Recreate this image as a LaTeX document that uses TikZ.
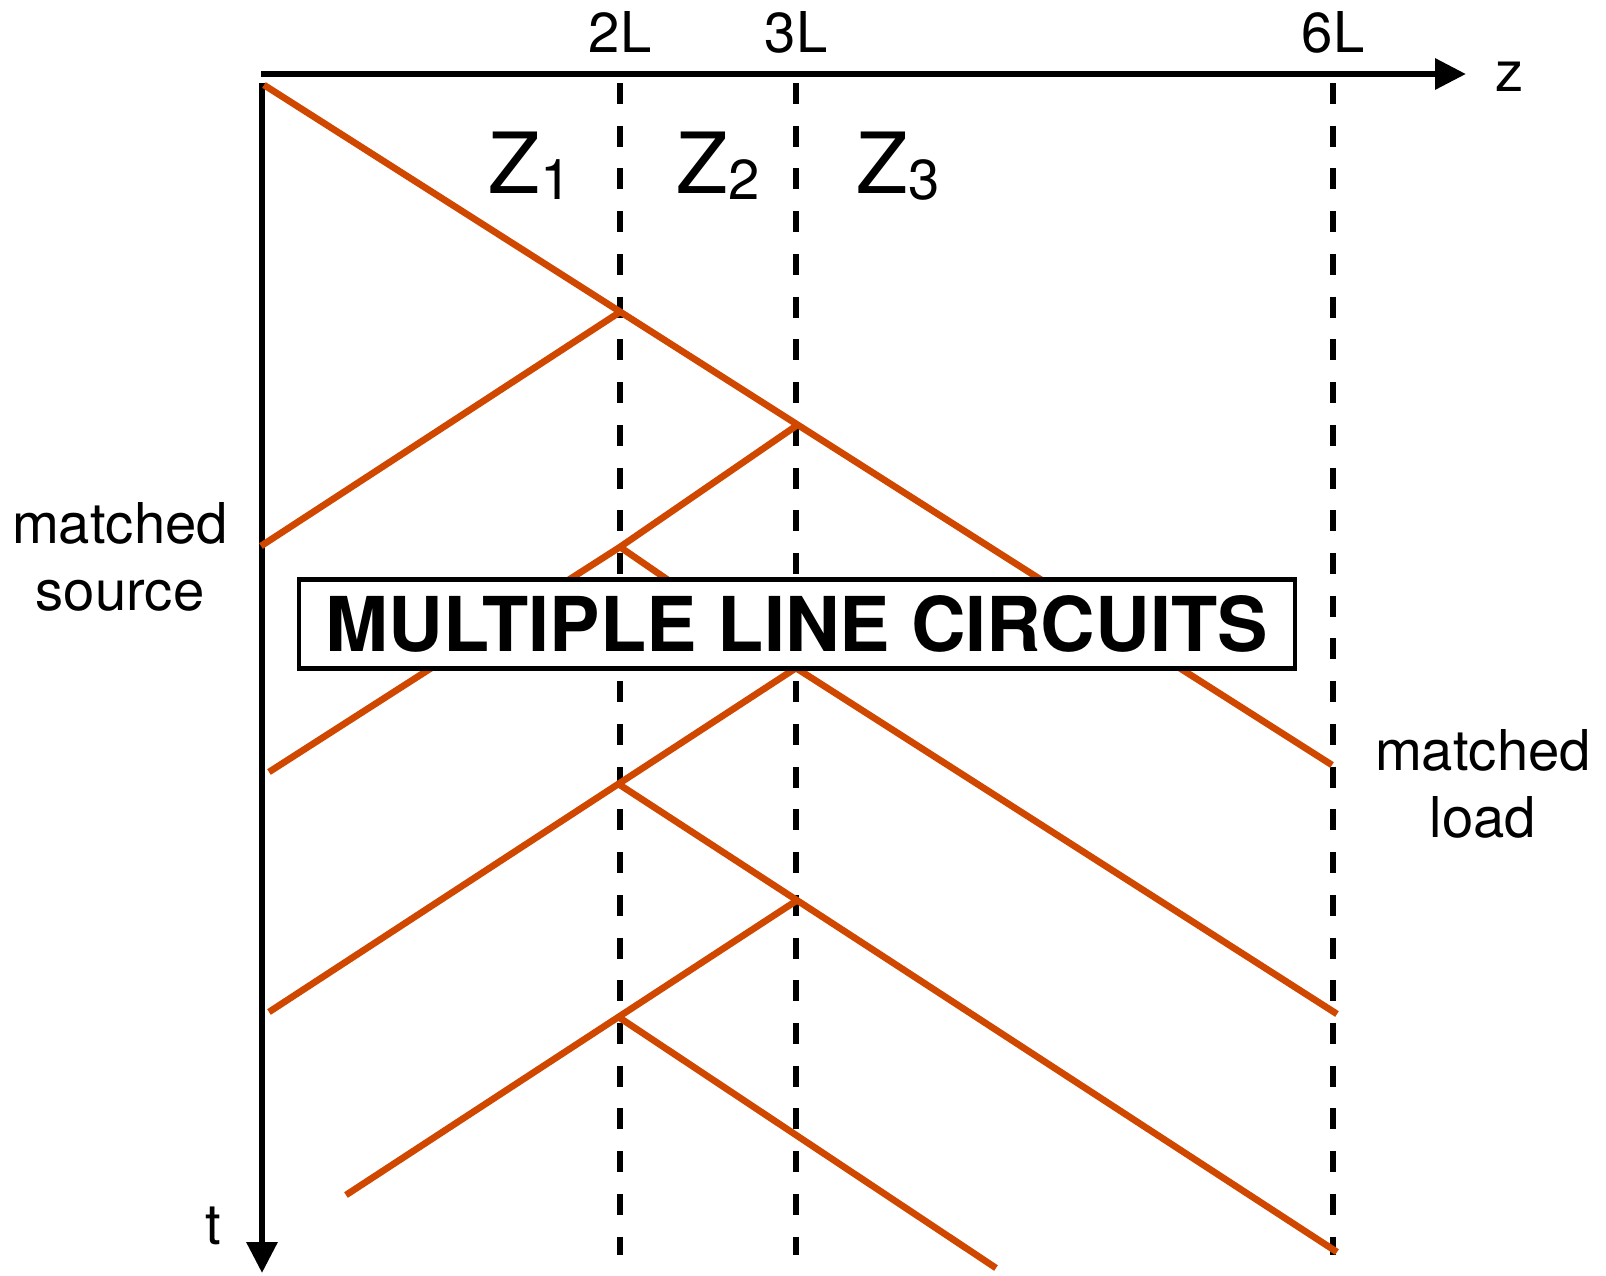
\documentclass[tikz,border=0pt]{standalone}
\usepackage{fontspec}
\setmainfont{TeX Gyre Heros}
\usepackage{tikz}
\usetikzlibrary{arrows.meta}
\definecolor{wavecol}{RGB}{208,72,0}
\newcommand{\zsub}[1]{\raisebox{-1.9pt}{\fontsize{16}{16}\selectfont #1}}

\begin{document}
\begin{tikzpicture}[x=0.01cm, y=-0.01cm,
  axis/.style={line width=1.8pt, -{Triangle[length=0.31cm,width=0.3cm]}},
  iface/.style={line width=1.9pt, dash pattern=on 0.21cm off 0.217cm},
  wave/.style={line width=1.9pt, draw=wavecol},
  lbl/.style={inner sep=0pt, font=\fontsize{16}{19}\selectfont},
  imp/.style={inner sep=0pt, anchor=base, font=\fontsize{24}{28}\selectfont},
  title/.style={draw, line width=1.2pt, fill=white, inner sep=0pt,
    minimum width=9.96cm, minimum height=0.89cm,
    font=\fontsize{21.5}{25}\selectfont\bfseries}
]
\useasboundingbox (0,0) rectangle (1606,1275);

% axes
\coordinate (zs) at (261,74);
\coordinate (ze) at (1466,74);
\coordinate (ts) at (262,83);
\coordinate (te) at (262,1273);
\draw[axis] (zs) -- (ze);
\draw[axis] (ts) -- (te);
\node[lbl, anchor=base] (zlab) at (1510,91) {z};
\node[lbl, anchor=base] (tlab) at (213,1244) {t};

% interfaces
\foreach \x/\n in {620/2L, 796/3L, 1333/6L}{
  \coordinate (top\n) at (\x,83);
  \coordinate (bot\n) at (\x,1255);
  \draw[iface] (top\n) -- (bot\n);
  \node[lbl, anchor=base] (lab\n) at (\x,52) {\n};
}

\node[imp] (zone) at (530,193) {Z\zsub{1}};
\node[imp] (ztwo) at (718,193) {Z\zsub{2}};
\node[imp] (zthree) at (898,193) {Z\zsub{3}};

% reflection points
\coordinate (o)  at (264,85);
\coordinate (r1) at (620,312);
\coordinate (r2) at (796,426);
\coordinate (r3) at (620,547);
\coordinate (r4) at (796,668);
\coordinate (r5) at (620,785);
\coordinate (r6) at (796,901);
\coordinate (r7) at (620,1018);
% free ends
\coordinate (e1) at (1332,765);
\coordinate (l2) at (261,546);
\coordinate (l3) at (269,772);
\coordinate (e4) at (1337,1014);
\coordinate (l5) at (269,1012);
\coordinate (e6) at (1337,1252);
\coordinate (l7) at (346,1195);
\coordinate (e8) at (996,1268);

\draw[wave] (o) -- (e1);
\draw[wave] (r1) -- (l2);
\draw[wave] (r2) -- (r3) -- (l3);
\draw[wave] (r3) -- (r4) -- (e4);
\draw[wave] (r4) -- (l5);
\draw[wave] (r5) -- (e6);
\draw[wave] (r6) -- (l7);
\draw[wave] (r7) -- (e8);

\node[lbl, align=center] (src) at (120,557) {matched\\source};
\node[lbl, align=center] (load) at (1483,784) {matched\\load};

\node[title] (box) at (797,624) {MULTIPLE LINE CIRCUITS};
\end{tikzpicture}
\end{document}
